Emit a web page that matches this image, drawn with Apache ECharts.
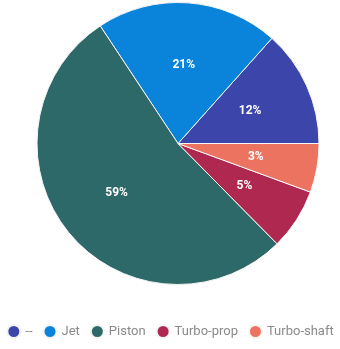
<!DOCTYPE html>
<html>
<head>
<meta charset="utf-8">
<script src="https://cdn.jsdelivr.net/npm/echarts@6/dist/echarts.min.js"></script>
<style>
  html, body { margin: 0; padding: 0; background: #ffffff; }
  #chart { width: 340px; height: 349px; }
</style>
</head>
<body>
<div id="chart"></div>
<script>
// Categories (legend order, drawn counter-clockwise from 3 o'clock)
const categories = ['--', 'Jet', 'Piston', 'Turbo-prop', 'Turbo-shaft'];
// Slice sizes (percent of circle)
const sliceValues = [13.4, 20.9, 53.1, 7.0, 5.6];
// Percentage labels printed on the slices
const sliceLabels = ['12%', '21%', '59%', '5%', '3%'];
const colors = ['#3C46AA', '#0A84DA', '#2D6969', '#AF2850', '#EB735F'];

const pieData = categories.map((name, i) => ({ name: name, value: sliceValues[i] }));
const labelData = categories.map((name, i) => ({ name: name, value: sliceValues[i], label: { formatter: sliceLabels[i] } }));

const chart = echarts.init(document.getElementById('chart'), null, { renderer: 'canvas' });
chart.setOption({
  animation: false,
  color: colors,
  legend: {
    bottom: 5,
    left: 'center',
    icon: 'circle',
    itemWidth: 13,
    itemHeight: 13,
    itemGap: 10,
    textStyle: { color: '#8a8a8a', fontSize: 13, fontFamily: 'Roboto' },
    data: categories
  },
  series: [
    {
      type: 'pie',
      center: [178, 143.5],
      radius: [0, 141],
      startAngle: 0,
      clockwise: false,
      label: { show: false },
      labelLine: { show: false },
      itemStyle: { borderColor: '#f4f4f4', borderWidth: 1 },
      emphasis: { disabled: true },
      data: pieData
    },
    {
      type: 'pie',
      center: [178, 143.5],
      radius: [0, 152],
      startAngle: 0,
      clockwise: false,
      silent: true,
      itemStyle: { color: 'rgba(0,0,0,0)' },
      label: {
        show: true,
        position: 'inside',
        color: '#ffffff',
        fontSize: 12,
        fontWeight: 'bold',
        fontFamily: 'Roboto'
      },
      labelLine: { show: false },
      emphasis: { disabled: true },
      data: labelData
    }
  ]
});
</script>
</body>
</html>
